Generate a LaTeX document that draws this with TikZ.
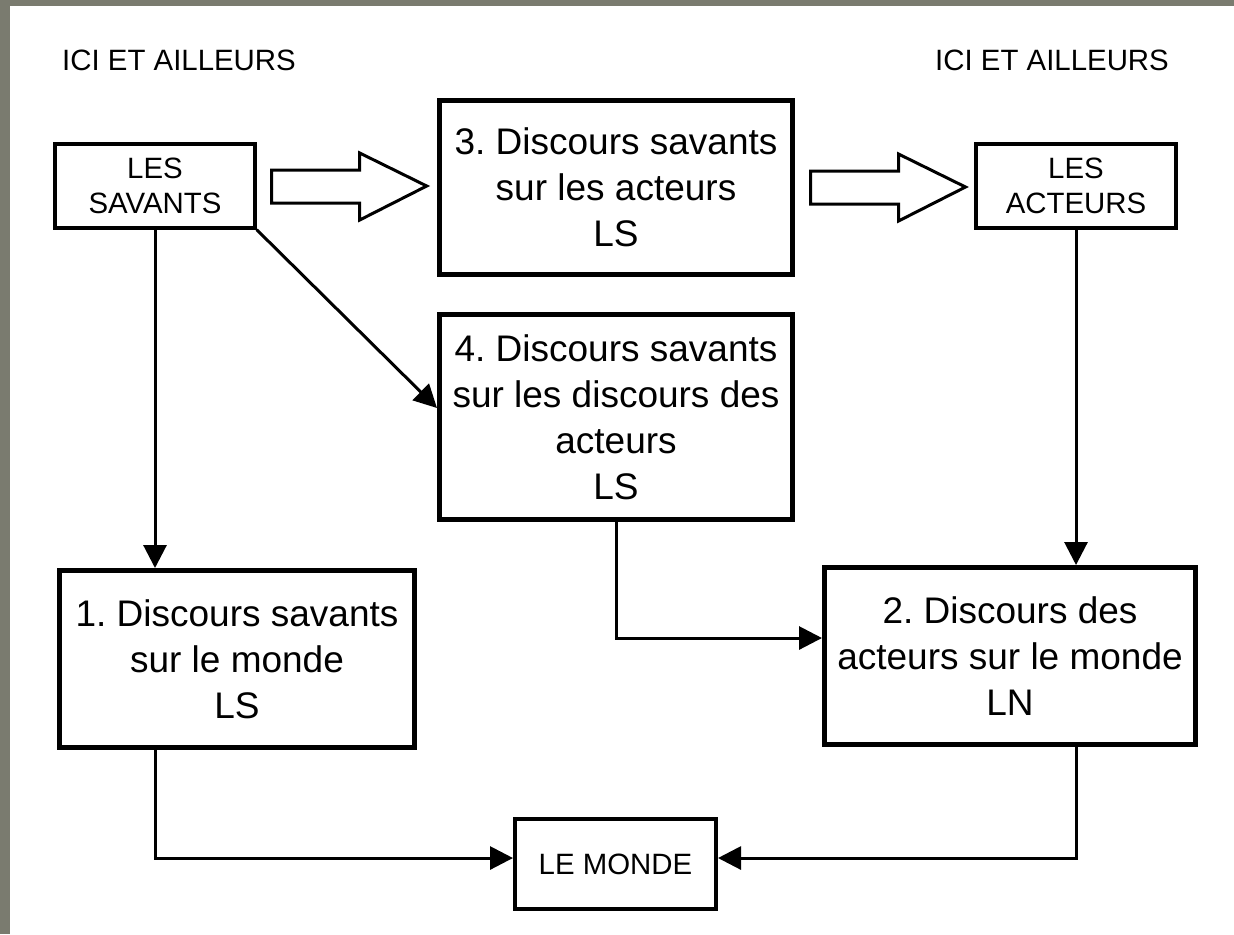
\documentclass[tikz,border=0pt]{standalone}
\usepackage{fontspec}
\setmainfont{Liberation Sans}
\usepackage{tikz}
\usetikzlibrary{arrows.meta}

\definecolor{framegray}{RGB}{122,123,111}
\frenchspacing

\tikzset{
	bigbox/.style={shape=rectangle,draw=black,line width=2.5pt,align=center,inner sep=0pt,font=\fontsize{18.5}{23}\selectfont},
	smallbox/.style={shape=rectangle,draw=black,line width=1.7pt,align=center,inner sep=0pt,font=\fontsize{14.7}{17.5}\selectfont},
	place/.style={inner sep=0pt,font=\fontsize{14.7}{17}\selectfont},
	link/.style={draw=black,line width=1.5pt,-{Triangle[length=11.5pt,width=11.5pt]}},
	hollow/.style={draw=black,line width=1.5pt,fill=white,line join=miter},
	hollowarrow/.pic={
		\draw[hollow] (0,0) -- ++(0,-16) -- ++(88,0) -- ++(0,-17) -- ++(67,33) -- ++(-67,34) -- ++(0,-17) -- ++(-88,0) -- cycle;
	}
}

\begin{document}
\begin{tikzpicture}[x=0.5pt,y=-0.5pt]
	\fill[framegray] (0,0) rectangle (1234,934);
	\fill[white] (10,6) rectangle (1234,934);
	\useasboundingbox (0,0) rectangle (1234,934);

	\node[place] (iciL) at (179,60)  {ICI ET AILLEURS};
	\node[place] (iciR) at (1052,60) {ICI ET AILLEURS};

	\node[smallbox,minimum width=100pt,minimum height=42pt]    (sav)   at (155,186)   {LES\\SAVANTS};
	\node[smallbox,minimum width=100pt,minimum height=42pt]    (act)   at (1076,186)  {LES\\ACTEURS};
	\node[bigbox,minimum width=176.5pt,minimum height=87pt]    (b3)    at (616,187)   {3. Discours savants\\sur les acteurs\\LS};
	\node[bigbox,minimum width=176.5pt,minimum height=102.5pt] (b4)    at (616,417)   {4. Discours savants\\sur les discours des\\acteurs\\LS};
	\node[bigbox,minimum width=177.5pt,minimum height=88.5pt]  (b1)    at (237,659)   {1. Discours savants\\sur le monde\\LS};
	\node[bigbox,minimum width=185.5pt,minimum height=88.5pt]  (b2)    at (1010,656)  {2. Discours des\\acteurs sur le monde\\LN};
	\node[smallbox,line width=2pt,minimum width=100.5pt,minimum height=45pt] (monde) at (615.5,864) {LE MONDE};

	\pic at ([xshift=7.5pt]sav.east) {hollowarrow};
	\pic at ([xshift=7.75pt]b3.east) {hollowarrow};

	\draw[link] (sav.south) -- (sav.south |- b1.north);
	\draw[link] (act.south) -- (act.south |- b2.north);
	\draw[link] (sav.south east) -- ([yshift=4.5pt]b4.west);
	\draw[link] (b4.south) |- ([yshift=9pt]b2.west);
	\draw[link] (b1.south -| sav.south) |- ([yshift=3pt]monde.west);
	\draw[link] (b2.south -| act.south) |- ([yshift=3pt]monde.east);
\end{tikzpicture}
\end{document}
